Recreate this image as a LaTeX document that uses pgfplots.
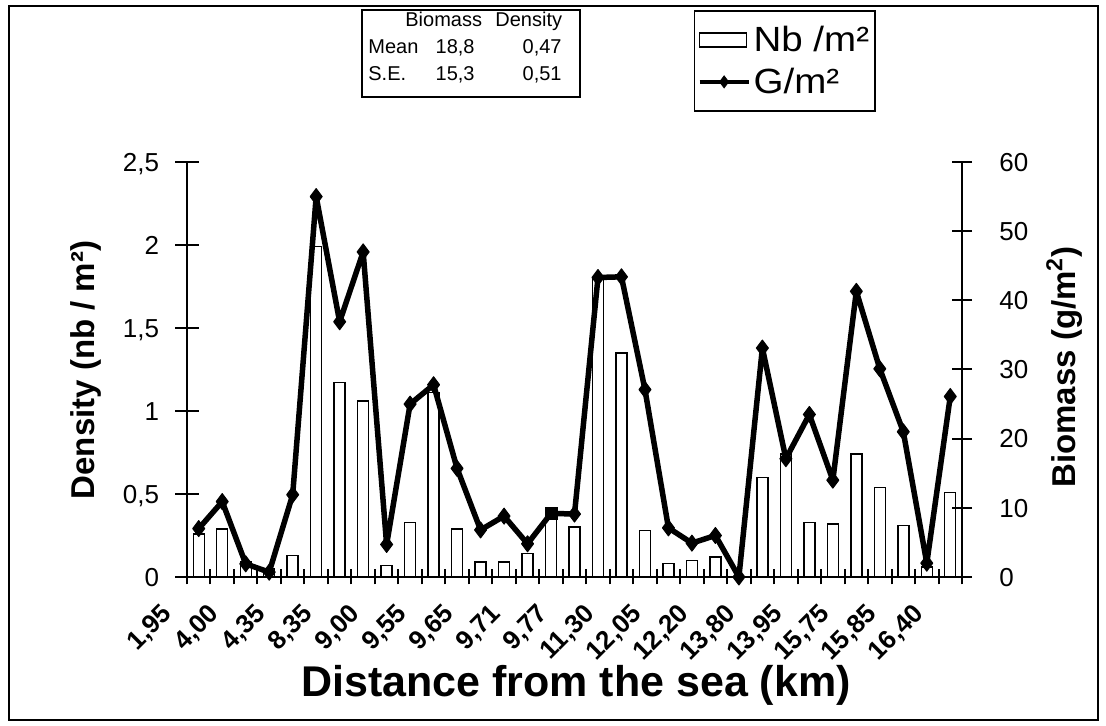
\documentclass[border=0pt]{standalone}
\usepackage{fontspec}
\setmainfont{Liberation Sans}
\newfontfamily\legfont[FakeStretch=1.1]{Liberation Sans}
\usepackage{pgfplots}
\usepackage{pgfplotstable}
\pgfplotsset{compat=1.18}

% idx = position of the site on the axis, dens = nb/m2, bio = g/m2
\pgfplotstableread{
idx dens bio
0 0.26 7.0
1 0.29 10.9
2 0.09 1.9
3 0.05 0.7
4 0.13 11.9
5 1.99 55.0
6 1.17 36.9
7 1.06 47.0
8 0.07 4.7
9 0.33 25.0
10 1.11 27.8
11 0.29 15.7
12 0.09 6.8
13 0.09 8.8
14 0.14 4.8
15 0.39 9.2
16 0.30 9.1
17 1.80 43.3
18 1.35 43.4
19 0.28 27.1
20 0.08 7.1
21 0.10 4.9
22 0.12 6.0
23 0.00 0.0
24 0.60 33.1
25 0.74 17.1
26 0.33 23.5
27 0.32 14.0
28 0.74 41.3
29 0.54 30.1
30 0.31 21.0
31 0.06 2.0
32 0.51 26.1
}\sites

\pgfplotsset{
  common/.style={
    at={(0pt,0pt)}, anchor=south west,
    scale only axis, width=387.5pt, height=207.5pt,
    xmin=-0.5, xmax=32.5, clip=false,
    tick align=center,
    tick style={black, line width=1pt},
    axis line style={black, line width=1.3pt},
  },
  numlab/.style={font=\fontsize{13}{13}\selectfont, inner sep=0pt,
    text height=9.3pt, text depth=0pt},
}

\begin{document}
\begin{tikzpicture}
% bars and the x axis
\begin{axis}[common,
  ymin=0, ymax=2.5,
  axis x line*=bottom, axis y line=none,
  major tick length=7.5pt,
  xtick={-0.5,0.5,1.5,2.5,3.5,4.5,5.5,6.5,7.5,8.5,9.5,10.5,11.5,12.5,13.5,14.5,15.5,16.5,17.5,18.5,19.5,20.5,21.5,22.5,23.5,24.5,25.5,26.5,27.5,28.5,29.5,30.5,31.5,32.5},
  xticklabels={},
  extra x ticks={0,2,...,32},
  extra x tick labels={{1,95},{4,00},{4,35},{8,35},{9,00},{9,55},{9,65},{9,71},{9,77},{11,30},{12,05},{12,20},{13,80},{13,95},{15,75},{15,85},{16,40}},
  extra x tick style={tick style={draw=none}},
  xticklabel style={font=\bfseries\fontsize{13}{13}\selectfont, inner sep=0pt,
    text height=9.3pt, text depth=0pt, anchor=east,
    xshift=-16pt, yshift=-12pt, rotate=45},
]
\addplot[ybar, bar width=5.5pt, draw=black, fill=white, line width=0.7pt]
  table[x=idx, y=dens] {\sites};
\end{axis}

% left axis: density
\begin{axis}[common,
  ymin=0, ymax=2.5,
  hide x axis, axis y line*=left,
  major tick length=11.5pt,
  ytick={0,0.5,1,1.5,2,2.5},
  yticklabels={0,{0,5},1,{1,5},2,{2,5}},
  yticklabel style={numlab, xshift=-8pt},
]
\end{axis}

% right axis: biomass
\begin{axis}[common,
  ymin=0, ymax=60,
  hide x axis, axis y line*=right,
  major tick length=10pt,
  ytick={0,10,...,60},
  yticklabels={0,10,20,30,40,50,60},
  yticklabel style={numlab, xshift=13.5pt},
  legend cell align=left,
  legend style={at={(0.654,1.366)}, anchor=north west, draw=black,
    line width=0.75pt, inner xsep=1.5pt, inner ysep=6.25pt, row sep=4.5pt,
    font=\legfont\fontsize{17.5}{17.5}\selectfont,
    nodes={inner sep=1.5pt, text height=12.5pt, text depth=1pt}},
]
\addplot[black, line width=2.75pt, line join=round, mark=diamond*, mark size=4pt,
  mark options={line width=0.5pt, fill=black},
  mark indices={1,2,3,4,5,6,7,8,9,10,11,12,13,14,15,17,18,19,20,21,22,23,24,25,26,27,28,29,30,31,32,33},
  forget plot] table[x=idx, y=bio] {\sites};
\addplot[only marks, mark=square*, mark size=3pt, black, forget plot]
  coordinates {(15,9.2)};
\addlegendimage{legend image code/.code={
  \draw[black, line width=0.8pt, fill=white] (0pt,-3.5pt) rectangle (23.5pt,3.5pt);}}
\addlegendentry{Nb /m²}
\addlegendimage{black, line width=2pt, mark=diamond*, mark size=3pt,
  mark options={line width=0.4pt, fill=black},
  legend image code/.code={
  \draw[mark repeat=2, mark phase=2] plot coordinates {(0pt,0pt) (12.25pt,0pt) (24.5pt,0pt)};}}
\addlegendentry{G/m²}
\end{axis}

% axis titles
\node[anchor=base, rotate=90, font=\bfseries\fontsize{16.5}{16.5}\selectfont]
  at (-46pt,103.5pt) {Density (nb / m²)};
\node[anchor=base, rotate=90, font=\bfseries\fontsize{16.5}{16.5}\selectfont]
  at (444pt,105pt) {Biomass (g/m\textsuperscript{2})};
\node[anchor=base, font=\bfseries\fontsize{21.5}{21.5}\selectfont]
  at (194.5pt,-60pt) {Distance from the sea (km)};

% summary table
\draw[line width=0.75pt] (87.5pt,283.5pt) rectangle (196.5pt,240pt);
\begin{scope}[every node/.style={inner sep=0pt, font=\fontsize{10}{10}\selectfont}]
\node[anchor=base west] at (109pt,275pt) {Biomass};
\node[anchor=base west] at (154pt,275pt) {Density};
\node[anchor=base west] at (90.5pt,261.5pt) {Mean};
\node[anchor=base east] at (144pt,261.5pt) {18,8};
\node[anchor=base east] at (187.5pt,261.5pt) {0,47};
\node[anchor=base west] at (90.5pt,248pt) {S.E.};
\node[anchor=base east] at (144pt,248pt) {15,3};
\node[anchor=base east] at (187.5pt,248pt) {0,51};
\end{scope}

% outer frame
\draw[line width=0.75pt] (-89pt,-71.5pt) rectangle (455.5pt,285.5pt);

\pgfresetboundingbox
\useasboundingbox (-93.5pt,-74.5pt) rectangle (459.5pt,288.5pt);
\end{tikzpicture}
\end{document}
